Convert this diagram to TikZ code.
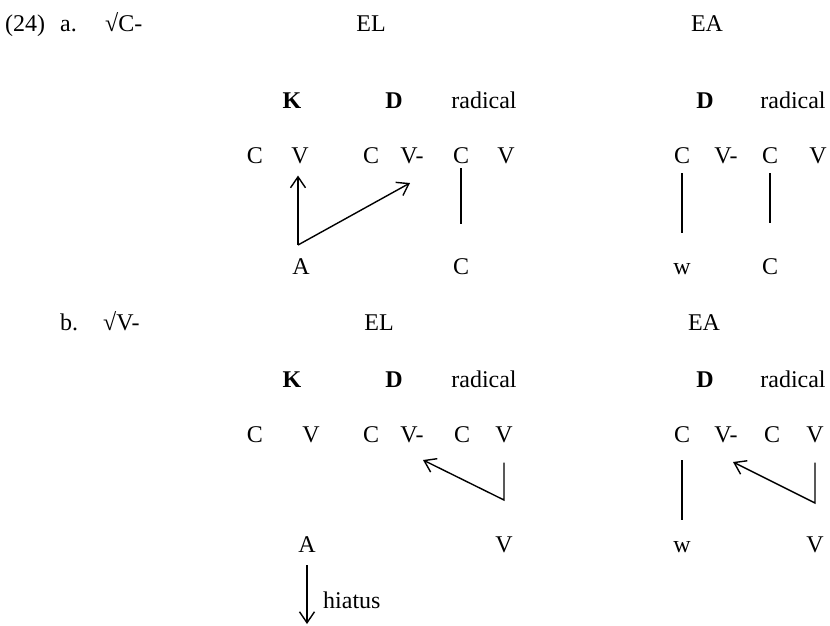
\documentclass[tikz,border=0pt]{standalone}
\usepackage{fontspec}
\setmainfont{Liberation Serif}
\usetikzlibrary{arrows.meta}

\begin{document}
\begin{tikzpicture}[x=1pt, y=-1pt, every node/.style = {anchor=base, inner sep=0pt, font=\fontsize{24}{28}\selectfont}, head/.style = {font=\fontsize{24}{28}\selectfont\bfseries}, lbl/.style = {anchor=base west}, link/.style = {line width=1.4pt}, move/.style = {line width=1.4pt, -{Straight Barb[length=11pt,width=15pt]}}]
     \useasboundingbox (0,0) rectangle (830,626);
     % (24) a.
     \node[lbl] (num) at (5,32) {(24)};
     \node[lbl] (aItem) at (60,32) {a.};
     \node[lbl] (aRoot) at (105,32) {√C-};
     \node (aEL) at (371,32) {EL};
     \node (aEA) at (707,32) {EA};
     \node[head] (aK) at (292,108) {K};
     \node[head] (aD) at (394,108) {D};
     \node (aRad) at (484,108) {radical};
     \node[head] (eD) at (705,108) {D};
     \node (eRad) at (793,108) {radical};
     \node (aC1) at (255,163) {C};
     \node (aV1) at (300,163) {V};
     \node (aC2) at (371,163) {C};
     \node (aV2) at (412,163) {V-};
     \node (aC3) at (461,163) {C};
     \node (aV3) at (506,163) {V};
     \node (eC1) at (682,163) {C};
     \node (eV2) at (726,163) {V-};
     \node (eC3) at (770,163) {C};
     \node (eV3) at (818,163) {V};
     \node (aA) at (301,274) {A};
     \node (aCb) at (461,274) {C};
     \node (eW) at (682,274) {w};
     \node (eCb) at (770,274) {C};
     \coordinate (aPiv) at (298,245);
     \coordinate (aTip) at (410,183);
     \draw[move, shorten >=12pt] (aPiv) -- (aPiv |- aV1.south);
     \draw[move] (aPiv) -- (aTip);
     \draw[link] ([yshift=-5pt]aC3.south) -- ([yshift=34pt]aCb.north);
     \draw[link] ([yshift=-10pt]eC1.south) -- ([yshift=30pt]eW.north);
     \draw[link] ([yshift=-10pt]eC3.south) -- ([yshift=35pt]eCb.north);
     % b.
     \node[lbl] (bItem) at (60,330) {b.};
     \node[lbl] (bRoot) at (103,330) {√V-};
     \node (bEL) at (379,330) {EL};
     \node (bEA) at (704,330) {EA};
     \node[head] (bK) at (292,387) {K};
     \node[head] (bD) at (394,387) {D};
     \node (bRad) at (484,387) {radical};
     \node[head] (fD) at (705,387) {D};
     \node (fRad) at (793,387) {radical};
     \node (bC1) at (255,442) {C};
     \node (bV1) at (311,442) {V};
     \node (bC2) at (371,442) {C};
     \node (bV2) at (412,442) {V-};
     \node (bC3) at (462,442) {C};
     \node (bV3) at (504,442) {V};
     \node (fC1) at (682,442) {C};
     \node (fV2) at (726,442) {V-};
     \node (fC3) at (772,442) {C};
     \node (fV3) at (815,442) {V};
     \node (bA) at (307,552) {A};
     \node (bVb) at (504,552) {V};
     \node (fW) at (682,552) {w};
     \node (fVb) at (815,552) {V};
     \node[lbl] (gap) at (323,608) {hiatus};
     \coordinate (bPiv) at (504,500);
     \coordinate (bTip) at (423,460);
     \coordinate (fPiv) at (815,503);
     \coordinate (fTip) at (733,462);
     \coordinate (bEnd) at (307,624);
     \draw[move] ([yshift=-20pt]bV3.south) -- (bPiv) -- (bTip);
     \draw[move] ([yshift=-20pt]fV3.south) -- (fPiv) -- (fTip);
     \draw[link] ([yshift=-18pt]fC1.south) -- ([yshift=21pt]fW.north);
     \draw[move] ([yshift=-13pt]bA.south) -- (bEnd);
\end{tikzpicture}
\end{document}
